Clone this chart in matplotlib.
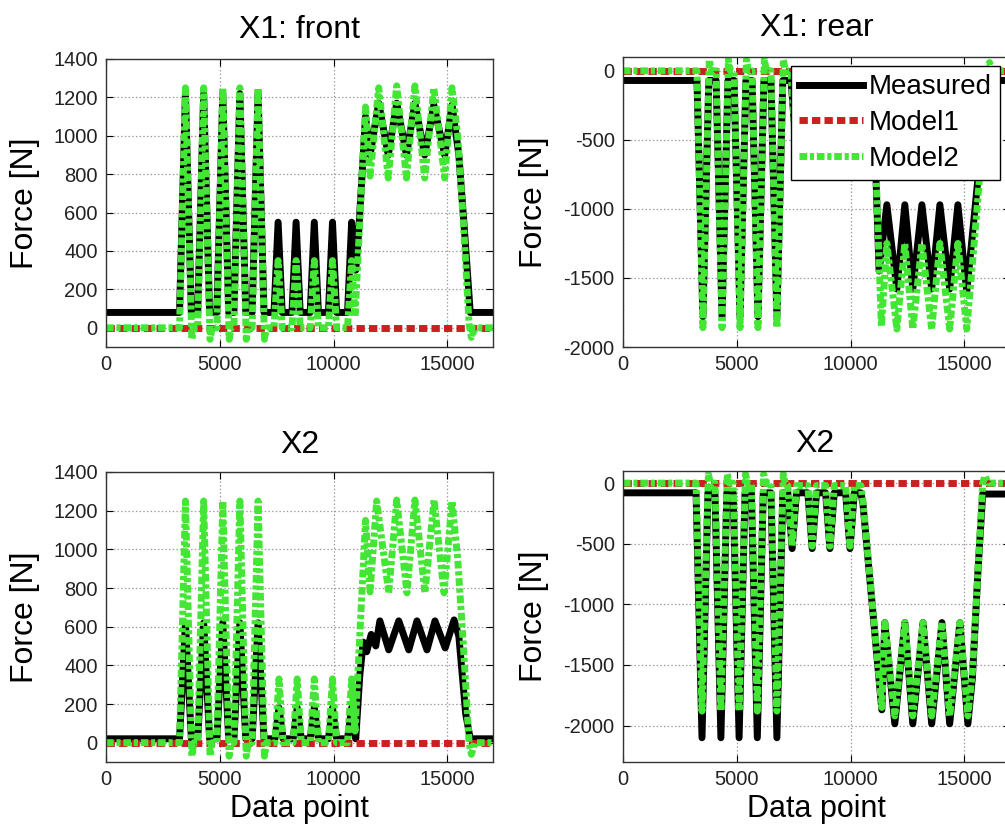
import matplotlib
matplotlib.use('Agg')
import matplotlib.pyplot as plt

plt.rcParams['font.family'] = ['Liberation Sans', 'DejaVu Sans']
plt.rcParams['lines.scale_dashes'] = False
plt.rcParams['axes.unicode_minus'] = False

# Model1 is flat at zero in every panel
model1_x = [0, 17000]
model1_y = [0, 0]

# X1: front, measured
front_meas_x = [0, 3230, 3490, 3750, 4030, 4290, 4550, 4870, 5130, 5390, 5620, 5880, 6140,
                6420, 6680, 6940, 7380, 7560, 7740, 8170, 8350, 8530, 8970, 9150, 9330,
                9770, 9950, 10130, 10610, 10790, 10970, 11100, 11400, 11600, 11980, 12400,
                12770, 13200, 13570, 14000, 14400, 14880, 15200, 15500, 15750, 16000, 17000]
front_meas_y = [80, 80, 1220, 80, 80, 1220, 80, 80, 1220, 80, 80, 1220, 80,
                80, 1220, 80, 80, 550, 80, 80, 550, 80, 80, 550, 80,
                80, 550, 80, 80, 550, 300, 500, 1100, 900, 1170, 900,
                1170, 900, 1170, 900, 1160, 900, 1160, 900, 500, 80, 80]

# X1: front, Model2
front_mod2_x = [0, 3230, 3490, 3770, 3860, 4030, 4290, 4570, 4660, 4870, 5130, 5410, 5500,
                5620, 5880, 6160, 6250, 6420, 6680, 6960, 7050, 7380, 7560, 7740, 8170,
                8350, 8530, 8970, 9150, 9330, 9770, 9950, 10130, 10610, 10790, 10940,
                11400, 11600, 11980, 12400, 12770, 13200, 13570, 14000, 14400, 14880,
                15200, 15450, 15700, 15950, 16050, 16200, 17000]
front_mod2_y = [0, 0, 1250, -60, 0, 0, 1250, -60, 0, 0, 1250, -60, 0,
                0, 1250, -60, 0, 0, 1250, -60, 0, 0, 350, 0, 0,
                350, 0, 0, 350, 0, 0, 350, 0, 0, 350, 60,
                1150, 790, 1250, 780, 1260, 780, 1260, 780, 1250, 780,
                1250, 1000, 550, 20, -50, 0, 0]

# X1: rear, measured
rear_meas_x = [0, 3250, 3510, 3770, 4090, 4350, 4610, 4880, 5140, 5400, 5670, 5930, 6190,
               6500, 6760, 7020, 7380, 7560, 7740, 8170, 8350, 8530, 8970, 9150, 9330,
               9770, 9950, 10130, 10610, 10790, 10970, 11250, 11590, 12030, 12380, 12730,
               13130, 13560, 13920, 14350, 14710, 15100, 15400, 15700, 16000, 17000]
rear_meas_y = [-70, -70, -1780, -70, -70, -1780, -70, -70, -1780, -70, -70, -1780, -70,
               -70, -1780, -70, -70, -450, -70, -70, -450, -70, -70, -450, -70,
               -70, -450, -70, -70, -450, -70, -1450, -970, -1580, -970, -1580,
               -970, -1580, -970, -1580, -970, -1600, -1100, -600, -70, -70]

# X1: rear, Model2
rear_mod2_x = [0, 3250, 3510, 3790, 3880, 4090, 4350, 4630, 4720, 4880, 5140, 5420, 5510,
               5670, 5930, 6210, 6300, 6500, 6760, 7040, 7130, 7380, 7560, 7740, 8170,
               8350, 8530, 8970, 9150, 9330, 9770, 9950, 10130, 10610, 10790, 10970,
               11150, 11350, 11590, 12030, 12380, 12730, 13130, 13560, 13920, 14350,
               14710, 15100, 15400, 15700, 16000, 16100, 16250, 17000]
rear_mod2_y = [0, 0, -1860, 80, 0, 0, -1860, 80, 0, 0, -1860, 80, 0,
               0, -1860, 80, 0, 0, -1860, 80, 0, 0, -500, 0, 0,
               -500, 0, 0, -500, 0, 0, -500, 0, 0, -500, 0,
               -900, -1850, -1250, -1870, -1250, -1870, -1250, -1870, -1250, -1870,
               -1250, -1870, -1300, -700, 0, 60, 0, 0]

# X2 (left), measured
x2l_meas_x = [0, 3230, 3490, 3750, 4030, 4290, 4550, 4870, 5130, 5390, 5620, 5880, 6140,
              6420, 6680, 6940, 7420, 7600, 7780, 8220, 8400, 8580, 8970, 9150, 9330,
              9770, 9950, 10130, 10610, 10790, 10970, 11150, 11300, 11450, 11650, 11850,
              12030, 12420, 12860, 13300, 13660, 14100, 14450, 14900, 15290, 15500,
              15800, 16000, 17000]
x2l_meas_y = [20, 20, 620, 20, 20, 620, 20, 20, 620, 20, 20, 620, 20,
              20, 620, 20, 20, 180, 20, 20, 180, 20, 20, 180, 20,
              20, 180, 20, 20, 180, 20, 350, 520, 470, 560, 500,
              630, 480, 630, 480, 630, 480, 630, 490, 635, 550,
              150, 20, 20]

# X2 (left), Model2
x2l_mod2_x = [0, 3230, 3490, 3770, 3860, 4030, 4290, 4570, 4660, 4870, 5130, 5410, 5500,
              5620, 5880, 6160, 6250, 6420, 6680, 6960, 7050, 7420, 7600, 7780, 8220,
              8400, 8580, 8970, 9150, 9330, 9770, 9950, 10130, 10610, 10790, 10940,
              11400, 11600, 11890, 12420, 12770, 13220, 13570, 14010, 14410, 14850,
              15200, 15450, 15700, 15950, 16050, 16200, 17000]
x2l_mod2_y = [0, 0, 1250, -70, 0, 0, 1250, -70, 0, 0, 1250, -70, 0,
              0, 1250, -70, 0, 0, 1250, -70, 0, 0, 330, 0, 0,
              330, 0, 0, 330, 0, 0, 330, 0, 0, 330, 60,
              1150, 780, 1250, 775, 1255, 775, 1255, 775, 1255, 775,
              1250, 950, 500, 0, -60, 0, 0]

# X2 (right), measured
x2r_meas_x = [0, 3210, 3470, 3730, 4040, 4300, 4560, 4840, 5100, 5360, 5640, 5900, 6160,
              6500, 6760, 7020, 7240, 7430, 7620, 8120, 8310, 8500, 8900, 9090, 9280,
              9780, 9970, 10160, 10450, 10540, 11370, 11500, 11940, 12380, 12730, 13180,
              13560, 14010, 14350, 14800, 15150, 15350, 15600, 15800, 17000]
x2r_meas_y = [-80, -80, -2100, -80, -80, -2100, -80, -80, -2100, -80, -80, -2100, -80,
              -80, -2100, -80, -80, -540, -80, -80, -540, -80, -80, -540, -80,
              -80, -540, -80, -80, -170, -1870, -1150, -1985, -1150, -1985, -1150,
              -1985, -1150, -1985, -1150, -1985, -1600, -700, -90, -90]

# X2 (right), Model2
x2r_mod2_x = [0, 3210, 3470, 3750, 3840, 4040, 4300, 4580, 4670, 4840, 5100, 5380, 5470,
              5640, 5900, 6180, 6270, 6500, 6760, 7040, 7130, 7240, 7430, 7620, 8120,
              8310, 8500, 8900, 9090, 9280, 9780, 9970, 10160, 10450, 10540, 11370,
              11500, 11940, 12380, 12730, 13180, 13560, 14010, 14350, 14800, 15150,
              15350, 15600, 15800, 15900, 16050, 17000]
x2r_mod2_y = [0, 0, -1880, 75, 0, 0, -1880, 75, 0, 0, -1880, 75, 0,
              0, -1880, 75, 0, 0, -1880, 75, 0, -20, -520, -20, -20,
              -520, -20, -20, -520, -20, -20, -520, -20, -20, -150, -1850,
              -1150, -1920, -1150, -1920, -1150, -1920, -1150, -1920, -1150, -1920,
              -1550, -700, 0, 60, 0, 0]

GREEN = '#44e636'
RED = '#cc2020'
LW = 5.0


# Draws one panel with the three curves, grid and matlab-like axes.
def draw_panel(ax, meas_x, meas_y, mod2_x, mod2_y, title, ylim, yticks, title_pad):
    ax.plot(meas_x, meas_y, color='black', lw=LW, solid_joinstyle='round', label='Measured')
    ax.plot(model1_x, model1_y, color=RED, lw=LW, dashes=(6, 3), label='Model1')
    ax.plot(mod2_x, mod2_y, color=GREEN, lw=LW, dashes=(5.5, 2, 3, 2), label='Model2')

    ax.set_xlim(0, 17000)
    ax.set_ylim(*ylim)
    ax.set_xticks([0, 5000, 10000, 15000])
    ax.set_yticks(yticks)
    ax.ticklabel_format(style='plain', useOffset=False)
    ax.grid(True, linestyle=':', color='#999999', linewidth=0.9)
    ax.tick_params(direction='in', top=True, right=True, length=5, labelsize=14.5,
                   labelcolor='#222222', pad=6)
    for sp in ax.spines.values():
        sp.set_color('#333333')
        sp.set_linewidth(1.0)
    ax.set_title(title, fontsize=23, pad=title_pad)
    ax.set_ylabel('Force [N]', fontsize=23)


fig = plt.figure(figsize=(10.05, 8.32), dpi=100)
W, H = 1005.0, 832.0

ax_tl = fig.add_axes([106 / W, 1 - 347 / H, 387 / W, 288 / H])
ax_tr = fig.add_axes([623 / W, 1 - 347 / H, 387 / W, 290 / H])
ax_bl = fig.add_axes([106 / W, 1 - 762 / H, 387 / W, 290 / H])
ax_br = fig.add_axes([623 / W, 1 - 762 / H, 387 / W, 291 / H])

draw_panel(ax_tl, front_meas_x, front_meas_y, front_mod2_x, front_mod2_y, 'X1: front',
           (-100, 1400), range(0, 1401, 200), 15)
draw_panel(ax_tr, rear_meas_x, rear_meas_y, rear_mod2_x, rear_mod2_y, 'X1: rear',
           (-2000, 100), range(-2000, 1, 500), 15)
draw_panel(ax_bl, x2l_meas_x, x2l_meas_y, x2l_mod2_x, x2l_mod2_y, 'X2',
           (-100, 1400), range(0, 1401, 200), 14)
draw_panel(ax_br, x2r_meas_x, x2r_meas_y, x2r_mod2_x, x2r_mod2_y, 'X2',
           (-2300, 100), range(-2000, 1, 500), 14)

# Titles of the right column sit over the visible part of the axes
ax_tr.title.set_position(((817 - 623) / 387, 1))
ax_br.title.set_position(((815 - 623) / 387, 1))

for ax in (ax_tl, ax_bl):
    ax.yaxis.set_label_coords(-0.17, 0.5)
for ax in (ax_tr, ax_br):
    ax.yaxis.set_label_coords(-0.19, 0.5)
for ax in (ax_bl, ax_br):
    ax.set_xlabel('Data point', fontsize=22, labelpad=3)

leg = ax_tr.legend(loc='upper right', bbox_to_anchor=(1000 / W, 1 - 66 / H),
                   bbox_transform=fig.transFigure, fontsize=20, fancybox=False,
                   edgecolor='black', framealpha=1, borderpad=0.3, labelspacing=0.35,
                   handlelength=2.3, handletextpad=0.2, borderaxespad=0)
leg.get_frame().set_linewidth(1.0)

fig.savefig('out.png', dpi=100)
